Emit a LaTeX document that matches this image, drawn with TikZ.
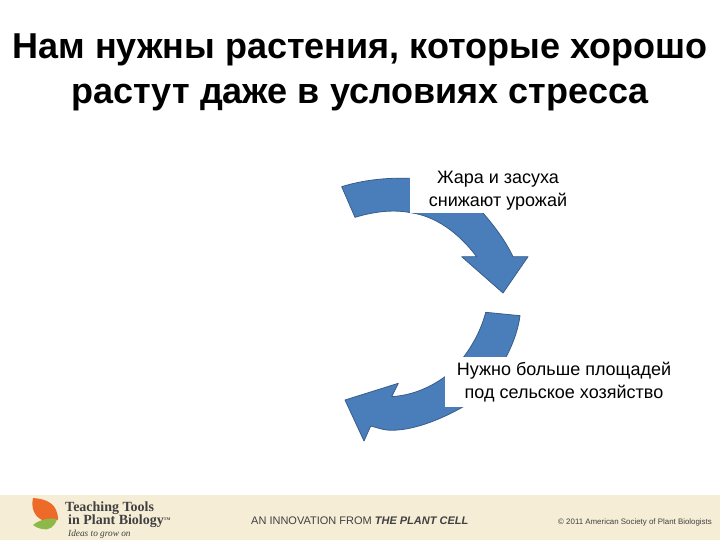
\documentclass[tikz,border=0pt]{standalone}
\usepackage{fontspec}
\setmainfont{Liberation Sans}
\newfontfamily\logofont{Liberation Serif}
\usetikzlibrary{positioning}
\definecolor{arrowblue}{HTML}{4A7EBB}
\definecolor{arrowedge}{HTML}{385D8A}
\definecolor{footcream}{HTML}{F5EDD6}
\definecolor{leaforange}{HTML}{EE6A28}
\definecolor{leafgreen}{HTML}{8DB84A}
\tikzset{bluearrow/.style={fill=arrowblue,draw=arrowedge,line width=0.8pt,line join=round},
  bodytext/.style={fill=white,inner sep=0pt,align=center,font=\fontsize{18}{23}\selectfont},
  foottext/.style={inner sep=0pt,anchor=west,text=black!75}}
\begin{document}
\begin{tikzpicture}[x=1pt,y=-1pt]
  \useasboundingbox (0,0) rectangle (720,540);
  \fill[white] (0,0) rectangle (720,540);
  \fill[footcream] (0,495) rectangle (720,540);
  \node[align=center,inner sep=0pt,font=\bfseries\fontsize{36}{45}\selectfont] (title) at (360,72.5)
    {Нам нужны растения, которые хорошо\\растут даже в условиях стресса};
  % upper arrow
  \draw[bluearrow] (341.7,186.7) .. controls (363,180) and (387,177.5) .. (410,178.3)
    .. controls (440,179) and (465,190) .. (483,213)
    .. controls (496,228) and (506,242) .. (513,256.7)
    -- (528,256.7) -- (503,293) -- (461.7,256.7) -- (476.7,256.7)
    .. controls (458,232) and (435,216) .. (410.7,212.7)
    .. controls (392,209) and (373,212) .. (355,217.3) -- cycle;
  % lower arrow
  \draw[bluearrow] (485.7,312.3) -- (520,315.7)
    .. controls (517,340) and (500,380) .. (463.3,406.7)
    .. controls (440,420) and (410,432) .. (386.7,430)
    .. controls (380,429) and (375,427) .. (370.7,426)
    -- (364,441) -- (345,400) -- (398.3,383.3) -- (391.7,396.7)
    .. controls (415,395) and (432,386) .. (445,376.7)
    .. controls (465,360) and (480,335) .. (485.7,312.3) -- cycle;
  \node[bodytext,minimum width=176pt,minimum height=45pt] (heat) at (498,190.5)
    {Жара и засуха\\снижают урожай};
  \node[bodytext,minimum width=238pt,minimum height=50pt] (land) at (564,382)
    {Нужно больше площадей\\под сельское хозяйство};
  % logo
  \fill[leaforange] (33,498) .. controls (46,499) and (58,503) .. (58,520)
    -- (42,520) .. controls (34,516) and (31,508) .. (33,498) -- cycle;
  \fill[leafgreen] (33,525) .. controls (40,519) and (50,518) .. (57,519)
    .. controls (55,527) and (48,531) .. (42,529) .. controls (38,528) and (35,527) .. (33,525) -- cycle;
  \node[foottext,align=left,font=\logofont\bfseries\fontsize{14}{13}\selectfont] (tools) at (65,515)
    {Teaching Tools\\\hspace{3pt}in Plant Biology\raisebox{4pt}{\fontsize{4}{4}\selectfont TM}};
  \node[foottext,font=\logofont\itshape\fontsize{9.3}{9}\selectfont,below=2pt of tools.south west,anchor=north west,xshift=3pt] (ideas)
    {Ideas to grow on};
  \node[foottext,font=\fontsize{11}{11}\selectfont] (innov) at (251,520.5)
    {AN INNOVATION FROM \textbf{\itshape THE PLANT CELL}};
  \node[foottext,font=\fontsize{7.9}{8}\selectfont] (copyr) at (558,522)
    {© 2011 American Society of Plant Biologists};
\end{tikzpicture}
\end{document}
